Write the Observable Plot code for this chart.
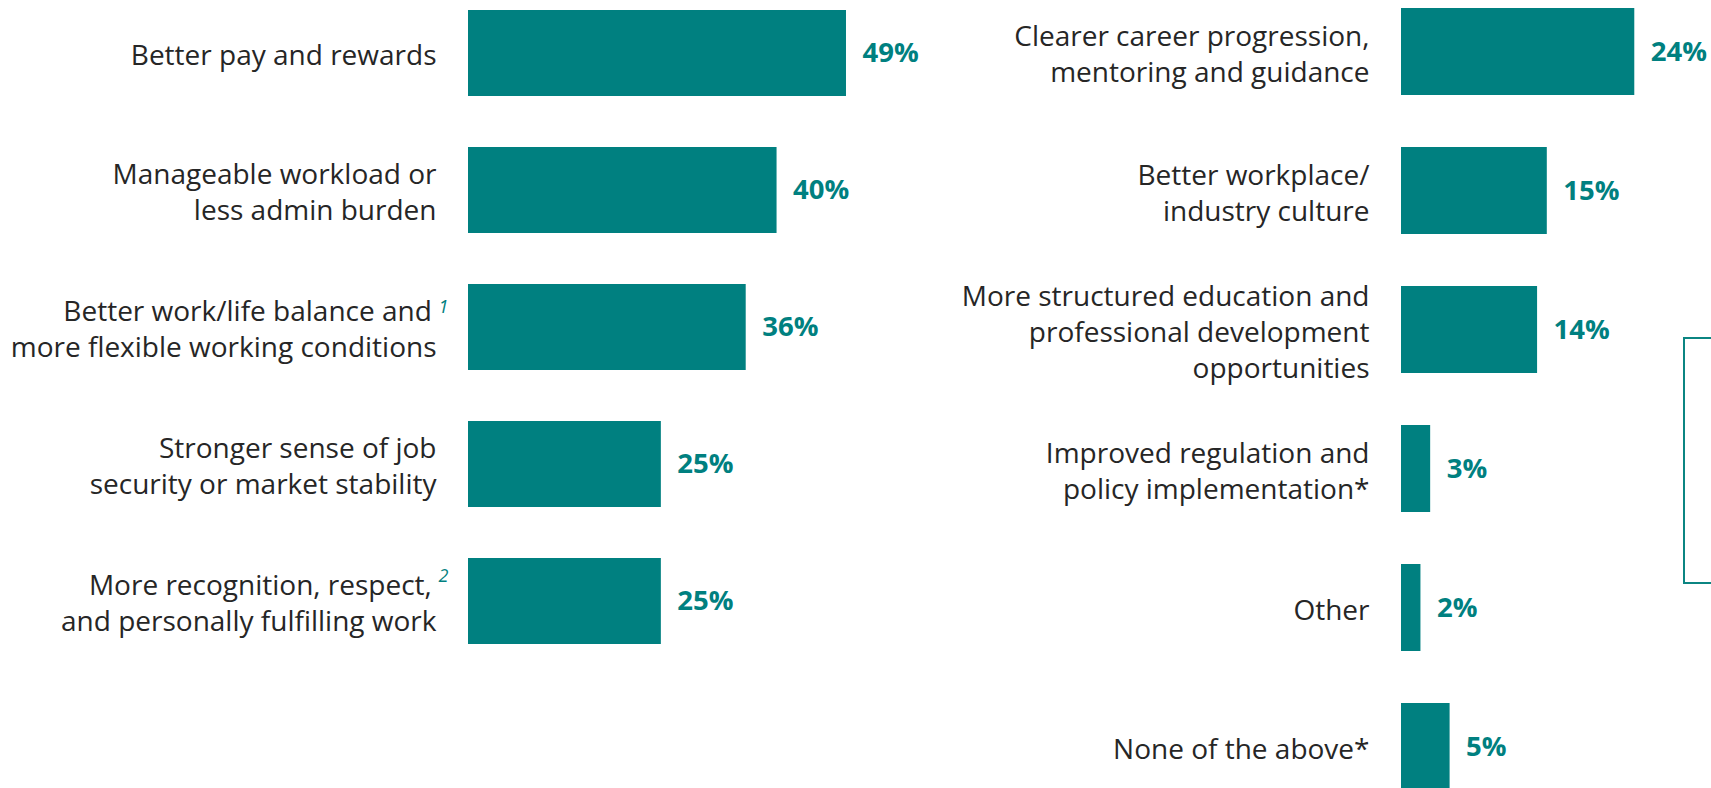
<!DOCTYPE html>
<html>
<head>
<meta charset="utf-8">
<script src="https://cdn.jsdelivr.net/npm/d3@7"></script>
<script src="https://cdn.jsdelivr.net/npm/@observablehq/plot@0.6"></script>
<style>
  html, body { margin: 0; padding: 0; background: #fff; }
  #wrap { position: relative; width: 1711px; height: 788px; overflow: hidden; background: #fff; }
  #left { position: absolute; left: 0; top: 0; }
  #right { position: absolute; left: 940px; top: 0; }
  #box { position: absolute; left: 1683px; top: 337px; width: 60px; height: 247px; border: 2.5px solid #0b8582; box-sizing: border-box; }
</style>
</head>
<body>
<div id="wrap">
  <div id="left"></div>
  <div id="right"></div>
  <div id="box"></div>
</div>
<script>
const leftCategories = [
  "Better pay and rewards",
  "Manageable workload or\nless admin burden",
  "Better work/life balance and\u2009\nmore flexible working conditions",
  "Stronger sense of job\nsecurity or market stability",
  "More recognition, respect,\u2009\nand personally fulfilling work"
];
const leftValues = [49, 40, 36, 25, 25];
const leftNotes = ["", "", "1", "", "2"];

const rightCategories = [
  "Clearer career progression,\nmentoring and guidance",
  "Better workplace/\nindustry culture",
  "More structured education and\nprofessional development\nopportunities",
  "Improved regulation and\npolicy implementation*",
  "Other",
  "None of the above*"
];
const rightValues = [24, 15, 14, 3, 2, 5];

const TEAL = "#008080";
const INK = "#262626";
const FONT = "'Open Sans', Carlito, Calibri, sans-serif";

function panel(cats, vals, notes, opts) {
  const data = cats.map((c, i) => ({cat: c, value: vals[i], note: notes ? notes[i] : ""}));
  const marks = [
    Plot.barX(data, {x: "value", y: "cat", fill: TEAL}),
    Plot.text(data, {x: 0, y: "cat", text: "cat", textAnchor: "end", dx: -32,
      fill: INK, fontSize: 28, lineHeight: 1.286, fontFamily: FONT}),
    Plot.text(data, {x: "value", y: "cat", text: d => d.value + "%", textAnchor: "start", dx: 16,
      fill: TEAL, fontSize: 27.5, fontWeight: "bold", fontFamily: FONT})
  ];
  if (notes) {
    marks.push(Plot.text(data.filter(d => d.note === "1"), {x: 0, y: "cat", text: "note", textAnchor: "start",
      dx: -30, dy: -20, fill: TEAL, fontSize: 18, fontStyle: "italic", fontFamily: FONT}));
    marks.push(Plot.text(data.filter(d => d.note === "2"), {x: 0, y: "cat", text: "note", textAnchor: "start",
      dx: -30, dy: -25, fill: TEAL, fontSize: 18, fontStyle: "italic", fontFamily: FONT}));
  }
  return Plot.plot({
    width: opts.width,
    height: 788,
    margin: 0,
    style: {fontFamily: FONT, background: "transparent", overflow: "visible"},
    x: {domain: [0, 100], range: opts.xRange, axis: null},
    y: {domain: cats, range: opts.yRange, paddingInner: opts.pad, paddingOuter: opts.pad / 2, axis: null},
    marks
  });
}

document.getElementById("left").appendChild(
  panel(leftCategories, leftValues, leftNotes, {width: 940, xRange: [468, 468 + 771.4], yRange: [-16.75, 670.75], pad: 0.375})
);
document.getElementById("right").appendChild(
  panel(rightCategories, rightValues, null, {width: 771, xRange: [461, 461 + 972], yRange: [-20.3, 817.3], pad: 0.377})
);
</script>
</body>
</html>
